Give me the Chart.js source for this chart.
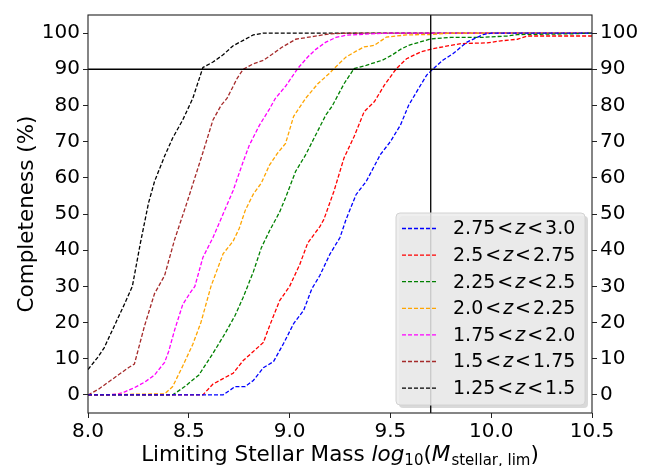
<!DOCTYPE html>
<html>
<head>
<meta charset="utf-8">
<script src="https://cdn.jsdelivr.net/npm/chart.js@4.4.1/dist/chart.umd.min.js"></script>
<style>
  html, body { margin: 0; padding: 0; background: #fff; }
  #wrap { width: 649px; height: 466px; }
</style>
</head>
<body>
<div id="wrap"><canvas id="myChart"></canvas></div>
<script>
// axis ranges and ticks
const xRange = [8.0, 10.5];
const yRange = [-5, 105];
const xTicks = [8.0, 8.5, 9.0, 9.5, 10.0, 10.5];
const yTicks = [0, 10, 20, 30, 40, 50, 60, 70, 80, 90, 100];

// reference lines
const massLimit = 9.7;
const completenessLimit = 90;

// redshift bins (legend order)
const zLow = ["2.75", "2.5", "2.25", "2.0", "1.75", "1.5", "1.25"];
const zHigh = ["3.0", "2.75", "2.5", "2.25", "2.0", "1.75", "1.5"];
const binColors = ["blue", "red", "green", "orange", "magenta", "brown", "black"];

// 2.75 < z < 3.0
const massZ275 = [8.0, 8.67, 8.73, 8.78, 8.82, 8.87, 8.92, 8.97, 9.02, 9.07, 9.11, 9.15, 9.2, 9.25, 9.28, 9.33, 9.38, 9.45, 9.5, 9.55, 9.59, 9.64, 9.68, 9.71, 9.76, 9.81, 9.88, 9.96, 10.0, 10.5];
const complZ275 = [0, 0, 2.3, 2.3, 4, 7.5, 9.2, 14.2, 19.7, 23.4, 29.3, 33, 38.9, 43.5, 48.5, 55.4, 59, 66.4, 70, 74.6, 80, 84.7, 88.4, 90, 92.5, 94.3, 97.5, 99.6, 100, 100];

// 2.5 < z < 2.75
const massZ250 = [8.0, 8.57, 8.62, 8.67, 8.72, 8.77, 8.82, 8.87, 8.9, 8.95, 9.0, 9.05, 9.09, 9.15, 9.17, 9.22, 9.27, 9.32, 9.37, 9.42, 9.47, 9.53, 9.58, 9.65, 9.71, 9.8, 9.85, 9.98, 10.04, 10.13, 10.18, 10.5];
const complZ250 = [0, 0, 3, 4.5, 6, 9.5, 12, 14.5, 19, 26, 30, 36, 42, 46.5, 48.5, 56.3, 65.5, 71.4, 78.3, 81, 85.6, 90.2, 92.9, 94.8, 95.7, 96.6, 97.1, 97.3, 97.8, 98.3, 99.2, 99.2];

// 2.25 < z < 2.5
const massZ225 = [8.0, 8.42, 8.48, 8.55, 8.62, 8.68, 8.73, 8.77, 8.82, 8.86, 8.9, 8.95, 8.98, 9.03, 9.08, 9.13, 9.18, 9.21, 9.27, 9.32, 9.38, 9.46, 9.51, 9.55, 9.59, 9.7, 9.8, 9.95, 10.08, 10.13, 10.4, 10.5];
const complZ225 = [0, 0, 2.3, 5.5, 11.5, 17, 22, 27, 34, 40.7, 45.3, 50.5, 54.5, 61.8, 66.4, 71.9, 77.4, 79.7, 86, 90.2, 91.1, 92.5, 94, 95.5, 96.6, 98.4, 98.8, 98.8, 99.2, 99.6, 99.8, 100];

// 2.0 < z < 2.25
const massZ200 = [8.0, 8.38, 8.42, 8.47, 8.52, 8.56, 8.61, 8.65, 8.67, 8.72, 8.75, 8.78, 8.82, 8.86, 8.9, 8.94, 8.98, 9.02, 9.08, 9.14, 9.2, 9.22, 9.28, 9.33, 9.37, 9.42, 9.48, 9.58, 9.7, 9.8, 10.5];
const complZ200 = [0, 0.3, 2.3, 8, 14, 20, 30, 36, 39, 42.5, 46, 51, 55.5, 58.6, 63.5, 66.8, 69.5, 77, 82, 86, 89, 90.2, 93.4, 95, 96.2, 96.6, 98.9, 99.5, 99.6, 100, 100];

// 1.75 < z < 2.0
const massZ175 = [8.0, 8.1, 8.15, 8.18, 8.23, 8.28, 8.33, 8.38, 8.4, 8.43, 8.47, 8.51, 8.53, 8.57, 8.62, 8.67, 8.72, 8.77, 8.8, 8.85, 8.9, 8.93, 8.98, 9.04, 9.09, 9.13, 9.18, 9.23, 9.28, 9.4, 9.5, 10.5];
const complZ175 = [0, 0, 0.3, 0.8, 2, 3.5, 5.5, 9, 12, 18, 25, 28.5, 30, 38, 43.5, 50, 56.5, 64.5, 69, 74.5, 79, 82, 85.3, 90.2, 93.4, 95.5, 97.5, 98.8, 99.4, 99.8, 100, 100];

// 1.5 < z < 1.75
const massZ150 = [8.0, 8.05, 8.1, 8.15, 8.2, 8.23, 8.28, 8.33, 8.38, 8.43, 8.49, 8.53, 8.57, 8.62, 8.66, 8.69, 8.74, 8.77, 8.82, 8.87, 8.91, 8.96, 9.03, 9.12, 9.2, 9.3, 10.5];
const complZ150 = [0, 1.5, 3.5, 5.5, 7.5, 8.5, 19, 28, 33, 43, 53, 60, 67, 76, 80, 82, 87.5, 90, 91.5, 92.5, 94, 96, 98.3, 99.1, 99.8, 100, 100];

// 1.25 < z < 1.5
const massZ125 = [8.0, 8.05, 8.08, 8.13, 8.18, 8.22, 8.26, 8.3, 8.33, 8.38, 8.42, 8.47, 8.52, 8.57, 8.62, 8.67, 8.72, 8.77, 8.82, 8.87, 10.5];
const complZ125 = [7, 10.5, 13, 19, 25, 30, 42, 53, 59, 66, 71, 76, 82, 90.5, 92, 94, 96.5, 98, 99.5, 100, 100];

const massBins = [massZ275, massZ250, massZ225, massZ200, massZ175, massZ150, massZ125];
const complBins = [complZ275, complZ250, complZ225, complZ200, complZ175, complZ150, complZ125];

const FONT = "DejaVu Sans";
const DASH = [4, 2];

function toPoints(xs, ys) {
  return xs.map((x, i) => ({ x: x, y: ys[i] }));
}

const datasets = massBins.map((xs, i) => ({
  label: zLow[i] + " < z < " + zHigh[i],
  data: toPoints(xs, complBins[i]),
  borderColor: binColors[i],
  borderWidth: 1.3,
  borderDash: DASH,
  showLine: true,
  pointRadius: 0,
  tension: 0,
  order: 1,
}));

datasets.push({
  label: "hline",
  data: [{ x: xRange[0], y: completenessLimit }, { x: xRange[1], y: completenessLimit }],
  borderColor: "#000",
  borderWidth: 1.3,
  showLine: true,
  pointRadius: 0,
  order: 0,
});
datasets.push({
  label: "vline",
  data: [{ x: massLimit, y: yRange[0] }, { x: massLimit, y: yRange[1] }],
  borderColor: "#000",
  borderWidth: 1.3,
  showLine: true,
  pointRadius: 0,
  order: 0,
});

// draw pieces of text [str, fontSpec, dy, gapAfter] from x along baseline y
function drawPieces(ctx, pieces, x, y) {
  let cx = x;
  for (const p of pieces) {
    ctx.font = p[1];
    ctx.fillText(p[0], cx, y + (p[2] || 0));
    cx += ctx.measureText(p[0]).width + (p[3] || 0);
  }
}
function piecesWidth(ctx, pieces) {
  let w = 0;
  for (const p of pieces) {
    ctx.font = p[1];
    w += ctx.measureText(p[0]).width + (p[3] || 0);
  }
  return w;
}

const decorPlugin = {
  id: "decor",
  afterDraw(chart) {
    const ctx = chart.ctx;
    const area = chart.chartArea;
    ctx.save();

    // frame
    ctx.strokeStyle = "#222";
    ctx.lineWidth = 1.1;
    ctx.strokeRect(area.left, area.top, area.right - area.left, area.bottom - area.top);

    // y title
    ctx.fillStyle = "#000";
    ctx.save();
    ctx.translate(33, (area.top + area.bottom) / 2);
    ctx.rotate(-Math.PI / 2);
    ctx.font = "21.5px '" + FONT + "'";
    ctx.textAlign = "center";
    ctx.textBaseline = "alphabetic";
    ctx.fillText("Completeness (%)", 0, 0);
    ctx.restore();

    // x title with math parts
    const n = "21.5px '" + FONT + "'";
    const it = "italic 21.5px '" + FONT + "'";
    const sub = "15px '" + FONT + "'";
    const xt = [
      ["Limiting Stellar Mass ", n],
      ["log", it],
      ["10", sub, 4],
      ["(", n],
      ["M", it, 0, 1],
      ["stellar, lim", sub, 4],
      [")", n],
    ];
    ctx.textAlign = "left";
    ctx.textBaseline = "alphabetic";
    const w = piecesWidth(ctx, xt);
    drawPieces(ctx, xt, (area.left + area.right) / 2 - w / 2, 461);

    // legend
    const lx = 396, ly = 213, lw = 189, lh = 192;
    ctx.fillStyle = "rgba(0,0,0,0.15)";
    ctx.beginPath();
    ctx.roundRect(lx + 3, ly + 3, lw, lh, 4);
    ctx.fill();
    ctx.fillStyle = "rgba(236,236,236,0.85)";
    ctx.strokeStyle = "#d2d2d2";
    ctx.lineWidth = 1;
    ctx.beginPath();
    ctx.roundRect(lx, ly, lw, lh, 4);
    ctx.fill();
    ctx.stroke();

    const ln = "19px '" + FONT + "'";
    const li = "italic 19px '" + FONT + "'";
    ctx.textBaseline = "middle";
    for (let i = 0; i < zLow.length; i++) {
      const ry = 228.5 + i * 26.6;
      ctx.strokeStyle = binColors[i];
      ctx.lineWidth = 1.3;
      ctx.setLineDash(DASH);
      ctx.beginPath();
      ctx.moveTo(402, ry);
      ctx.lineTo(438, ry);
      ctx.stroke();
      ctx.setLineDash([]);
      ctx.fillStyle = "#000";
      drawPieces(ctx, [
        [zLow[i], ln, 0, 2],
        ["<", ln, 0, 2],
        ["z", li, 0, 2],
        ["<", ln, 0, 2],
        [zHigh[i], ln],
      ], 453, ry + 1);
    }
    ctx.restore();
  },
};

const tickFont = { family: FONT, size: 20 };
const tickGrid = { display: true, drawOnChartArea: false, drawTicks: true, tickLength: 5, color: "#222", lineWidth: 1 };

new Chart(document.getElementById("myChart"), {
  type: "scatter",
  data: { datasets: datasets },
  options: {
    responsive: true,
    maintainAspectRatio: false,
    animation: false,
    layout: { padding: { top: 12, left: 0, right: 0, bottom: 0 } },
    plugins: { legend: { display: false }, tooltip: { enabled: false } },
    scales: {
      x: {
        type: "linear",
        min: xRange[0],
        max: xRange[1],
        afterBuildTicks: (s) => { s.ticks = xTicks.map((v) => ({ value: v })); },
        afterFit: (s) => { s.height = 53; },
        ticks: { font: tickFont, color: "#000", padding: 2, maxRotation: 0, callback: (v) => v.toFixed(1) },
        grid: tickGrid,
        border: { display: false },
      },
      y: {
        type: "linear",
        position: "left",
        min: yRange[0],
        max: yRange[1],
        afterBuildTicks: (s) => { s.ticks = yTicks.map((v) => ({ value: v })); },
        afterFit: (s) => { s.width = 88; },
        ticks: { font: tickFont, color: "#000", padding: 3 },
        grid: tickGrid,
        border: { display: false },
      },
      y2: {
        type: "linear",
        position: "right",
        min: yRange[0],
        max: yRange[1],
        afterBuildTicks: (s) => { s.ticks = yTicks.map((v) => ({ value: v })); },
        afterFit: (s) => { s.width = 57; },
        ticks: { font: tickFont, color: "#000", padding: 3 },
        grid: tickGrid,
        border: { display: false },
      },
    },
  },
  plugins: [decorPlugin],
});
</script>
</body>
</html>
